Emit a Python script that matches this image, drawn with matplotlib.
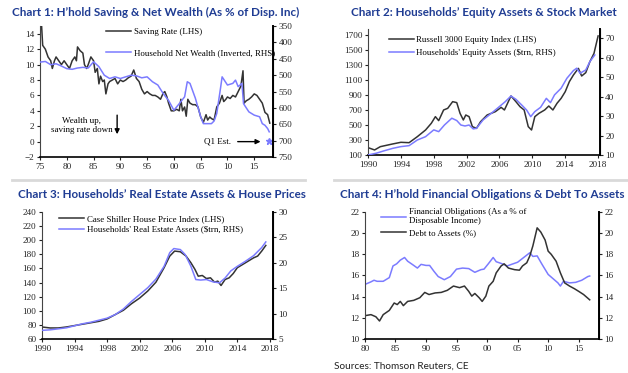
import numpy as np
import matplotlib.pyplot as plt

# Chart 1: saving rate (LHS, %) and net wealth (RHS, % of disp. income, inverted)
sav_yr = [1975.0, 1975.3, 1975.5, 1976.0, 1976.5, 1977.0, 1977.3, 1977.7, 1978.0, 1978.5,
          1979.0, 1979.5, 1980.0, 1980.5, 1981.0, 1981.5, 1981.8, 1982.0, 1982.5, 1983.0,
          1983.3, 1983.7, 1984.0, 1984.5, 1985.0, 1985.3, 1985.7, 1986.0, 1986.3, 1986.7,
          1987.0, 1987.3, 1987.7, 1988.0, 1988.5, 1989.0, 1989.5, 1990.0, 1990.5, 1991.0,
          1991.5, 1992.0, 1992.5, 1993.0, 1993.5, 1994.0, 1994.5, 1995.0, 1995.5, 1996.0,
          1996.5, 1997.0, 1997.5, 1998.0, 1998.3, 1998.7, 1999.0, 1999.5, 2000.0, 2000.5,
          2001.0, 2001.3, 2001.6, 2002.0, 2002.3, 2002.6, 2003.0, 2003.5, 2004.0, 2004.5,
          2005.0, 2005.5, 2006.0, 2006.3, 2006.7, 2007.0, 2007.5, 2008.0, 2008.5, 2009.0,
          2009.3, 2009.7, 2010.0, 2010.5, 2011.0, 2011.5, 2012.0, 2012.5, 2012.9, 2013.1,
          2013.5, 2014.0, 2014.5, 2015.0, 2015.5, 2016.0, 2016.5, 2017.0, 2017.5, 2017.9]
sav_rate = [14.5, 15.0, 12.5, 12.0, 11.0, 10.5, 9.5, 10.5, 11.0, 10.5,
            10.0, 10.5, 10.0, 9.5, 10.5, 11.0, 10.5, 12.3, 11.8, 11.5,
            10.0, 9.5, 10.0, 11.0, 10.5, 9.0, 9.5, 7.5, 8.5, 7.8,
            8.0, 6.2, 7.5, 7.8, 8.0, 8.2, 7.5, 8.0, 7.8, 8.0,
            8.3, 8.5, 9.3, 8.2, 7.8, 6.8, 6.2, 6.5, 6.2, 6.0,
            6.0, 5.8, 5.5, 6.3, 6.5, 5.8, 5.0, 4.0, 4.0, 4.2,
            4.0, 5.5, 4.0, 4.5, 3.3, 5.5, 5.0, 4.8, 4.8, 4.5,
            3.2, 2.5, 3.5, 2.8, 3.2, 3.0, 2.8, 4.5, 5.0, 6.0,
            5.2, 5.5, 5.8, 5.6, 6.0, 5.8, 6.5, 7.2, 9.2, 5.0,
            5.3, 5.5, 5.8, 6.2, 6.0, 5.5, 5.0, 3.8, 3.5, 2.4]
nw_yr = [1975.0, 1976.0, 1977.0, 1978.0, 1979.0, 1980.0, 1981.0, 1982.0, 1983.0, 1984.0,
         1985.0, 1986.0, 1987.0, 1988.0, 1989.0, 1990.0, 1991.0, 1992.0, 1993.0, 1994.0,
         1995.0, 1996.0, 1997.0, 1998.0, 1999.0, 2000.0, 2001.0, 2002.0, 2002.5, 2003.0,
         2004.0, 2005.0, 2005.5, 2006.0, 2007.0, 2007.5, 2008.0, 2008.7, 2009.0, 2010.0,
         2011.0, 2011.5, 2012.0, 2012.7, 2013.0, 2014.0, 2015.0, 2016.0, 2016.5, 2017.0,
         2017.5, 2017.8]
net_wealth = [460, 458, 468, 465, 472, 480, 482, 478, 476, 478,
              459, 474, 500, 510, 505, 510, 505, 500, 502, 508,
              505, 520, 530, 556, 577, 607, 587, 566, 520, 525,
              570, 627, 648, 648, 648, 640, 617, 540, 505, 530,
              525, 515, 535, 525, 587, 612, 622, 627, 648, 653,
              663, 673]
q1_est_yr, q1_est = 2017.8, 700

# Chart 2: Russell 3000 (LHS) and household equity assets ($trn, RHS)
r3k_yr = [1990.0, 1990.8, 1991.5, 1993.0, 1994.0, 1995.0, 1996.0, 1997.0, 1997.7, 1998.2,
          1998.6, 1999.2, 1999.7, 2000.3, 2000.8, 2001.2, 2001.6, 2001.9, 2002.3, 2002.7,
          2003.2, 2003.7, 2004.5, 2005.5, 2006.2, 2006.6, 2007.4, 2008.0, 2008.5, 2009.0,
          2009.5, 2009.9, 2010.3, 2010.8, 2011.5, 2012.0, 2012.5, 2013.0, 2013.5, 2014.0,
          2014.5, 2015.0, 2015.6, 2016.0, 2016.5, 2017.0, 2017.5, 2018.0]
russell3000 = [198, 167, 211, 247, 269, 264, 344, 433, 522, 611,
               558, 700, 722, 811, 798, 655, 567, 633, 611, 478,
               455, 544, 633, 678, 735, 700, 887, 811, 744, 700,
               478, 433, 611, 655, 700, 753, 700, 789, 855, 944,
               1077, 1167, 1255, 1153, 1198, 1344, 1455, 1687]
eq_yr = [1990.0, 1991.0, 1992.0, 1993.0, 1994.0, 1995.0, 1996.0, 1997.0, 1998.0, 1998.6,
         1999.3, 2000.2, 2000.8, 2001.3, 2001.8, 2002.3, 2002.8, 2003.2, 2004.0, 2005.0,
         2006.0, 2006.7, 2007.4, 2008.0, 2008.7, 2009.3, 2009.8, 2010.3, 2011.0, 2011.7,
         2012.2, 2012.7, 2013.5, 2014.2, 2015.0, 2015.4, 2015.8, 2016.5, 2017.0, 2017.6]
equity_assets = [10.0, 10.9, 12.2, 13.4, 14.3, 14.8, 17.7, 19.4, 22.9, 22.0,
                 25.4, 28.9, 27.7, 25.4, 24.9, 25.4, 23.4, 23.7, 28.0, 31.4,
                 34.9, 37.4, 40.3, 38.6, 35.7, 33.1, 29.7, 32.3, 34.5, 39.1,
                 36.9, 40.9, 44.3, 49.4, 53.4, 54.6, 52.0, 53.7, 58.0, 61.4]

# Chart 3: Case Shiller index (LHS) and household real estate assets ($trn, RHS)
cs_yr = [1990.0, 1991.0, 1992.0, 1993.0, 1994.0, 1995.0, 1996.0, 1997.0, 1998.0, 1999.0,
         2000.0, 2001.0, 2002.0, 2003.0, 2004.0, 2005.0, 2005.7, 2006.3, 2007.0, 2007.7,
         2008.3, 2008.8, 2009.2, 2009.7, 2010.2, 2010.7, 2011.2, 2011.6, 2012.0, 2012.5,
         2013.0, 2013.5, 2014.0, 2015.0, 2016.0, 2016.5, 2017.0, 2017.5]
case_shiller = [77.0, 75.6, 75.6, 77.0, 79.0, 81.0, 83.0, 85.0, 88.4, 94.6,
                100.7, 110.0, 118.0, 128.0, 140.5, 161.0, 177.5, 184.6, 183.6, 177.5,
                168.0, 158.5, 149.0, 150.0, 145.7, 146.7, 140.5, 142.0, 135.8, 144.3,
                146.7, 152.8, 161.0, 168.0, 175.0, 177.5, 184.6, 192.6]
re_yr = [1990.0, 1991.0, 1992.0, 1993.0, 1994.0, 1995.0, 1996.0, 1997.0, 1998.0, 1999.0,
         2000.0, 2001.0, 2002.0, 2003.0, 2004.0, 2005.0, 2005.7, 2006.2, 2007.0, 2007.6,
         2008.3, 2008.9, 2009.5, 2010.2, 2011.0, 2011.8, 2012.5, 2013.2, 2014.0, 2015.0,
         2016.0, 2017.0, 2017.5]
real_estate = [6.7, 6.8, 7.0, 7.2, 7.6, 8.0, 8.3, 8.7, 9.1, 9.8,
               10.9, 12.4, 13.75, 15.1, 16.8, 19.3, 22.0, 22.8, 22.6, 21.6,
               19.3, 16.7, 16.6, 16.7, 16.25, 16.05, 17.0, 18.4, 19.3, 20.3,
               21.4, 23.0, 24.1]

# Chart 4: financial obligations ratio and debt to assets (%)
fo_yr = [1980.0, 1981.0, 1981.5, 1982.0, 1983.0, 1984.0, 1984.6, 1985.2, 1985.8, 1986.5,
         1987.0, 1988.0, 1988.6, 1989.2, 1990.0, 1990.6, 1991.3, 1992.0, 1993.0, 1994.0,
         1995.0, 1996.0, 1997.0, 1998.0, 1999.0, 1999.5, 2000.2, 2001.0, 2001.5, 2002.5,
         2003.3, 2004.0, 2005.0, 2006.0, 2007.0, 2007.5, 2008.2, 2009.0, 2010.0, 2011.0,
         2011.6, 2012.0, 2012.5, 2013.5, 2014.5, 2015.5, 2016.5, 2016.8]
fin_oblig = [15.15, 15.4, 15.55, 15.45, 15.45, 15.8, 16.9, 17.1, 17.45, 17.7,
             17.35, 16.95, 16.7, 17.05, 16.95, 16.95, 16.4, 15.9, 15.6, 15.9,
             16.6, 16.7, 16.65, 16.3, 16.55, 16.6, 17.1, 17.7, 17.3, 17.1,
             16.9, 17.05, 17.25, 17.7, 18.15, 17.8, 17.85, 17.05, 16.1, 15.6,
             15.3, 15.0, 15.45, 15.3, 15.35, 15.55, 15.9, 15.95]
da_yr = [1980.0, 1981.0, 1981.8, 1982.4, 1983.0, 1984.0, 1984.8, 1985.3, 1985.8, 1986.3,
         1987.0, 1988.0, 1989.0, 1989.8, 1990.5, 1991.5, 1992.5, 1993.5, 1994.5, 1995.5,
         1996.3, 1997.0, 1997.5, 1998.0, 1998.7, 1999.2, 1999.8, 2000.3, 2001.0, 2001.5,
         2002.3, 2002.8, 2003.5, 2004.5, 2005.3, 2005.8, 2006.5, 2007.0, 2007.5, 2008.2,
         2008.8, 2009.5, 2010.0, 2010.5, 2011.3, 2012.0, 2012.7, 2013.5, 2014.3, 2015.0,
         2015.8, 2016.8]
debt_assets = [12.2, 12.3, 12.1, 11.7, 12.3, 12.7, 13.4, 13.25, 13.55, 13.15,
               13.55, 13.65, 13.9, 14.4, 14.2, 14.35, 14.4, 14.6, 15.0, 14.85,
               15.0, 14.5, 14.05, 14.3, 13.9, 13.55, 14.05, 15.0, 15.45, 16.25,
               16.9, 17.1, 16.7, 16.55, 16.5, 16.9, 17.2, 17.85, 18.8, 20.5,
               20.1, 19.35, 18.3, 18.0, 17.35, 16.25, 15.3, 15.0, 14.75, 14.5,
               14.2, 13.7]

BLACK = '#333333'
BLUE = '#7b7bff'
NAVY = '#1f3c93'
TICKFONT = 'Liberation Serif'

fig = plt.figure(figsize=(6.28, 3.73), dpi=100)


def style(ax, twin):
    for a in (ax, twin):
        a.spines['top'].set_visible(False)
        a.tick_params(labelsize=6.6, length=2.5, width=0.8, pad=1.5, colors='#222222')
        for lab in a.get_xticklabels() + a.get_yticklabels():
            lab.set_fontfamily(TICKFONT)
    ax.spines['left'].set_color('#444444')
    ax.spines['left'].set_linewidth(0.8)
    ax.spines['bottom'].set_linewidth(1.2)
    twin.spines['right'].set_linewidth(1.4)
    twin.spines['left'].set_visible(False)
    twin.spines['bottom'].set_visible(False)


def legend(ax, handles, labels, anchor, spacing):
    ax.legend(handles, labels, loc='upper left', bbox_to_anchor=anchor, frameon=False,
              prop={'family': TICKFONT, 'size': 6.4}, handlelength=2.8, handletextpad=0.3,
              labelspacing=spacing, borderpad=0, borderaxespad=0)


# ---- Chart 1
ax1 = fig.add_axes([0.0637, 0.579, 0.371, 0.351])
ax1b = ax1.twinx()
l1, = ax1.plot(sav_yr, sav_rate, color=BLACK, lw=1.1)
l2, = ax1b.plot(nw_yr, net_wealth, color=BLUE, lw=1.1)
ax1b.plot([q1_est_yr], [q1_est], marker='*', color=BLUE, ms=5, ls='none')
ax1.set_xlim(1975, 2018.5)
ax1.set_ylim(-2, 15)
ax1.set_yticks(np.arange(-2, 15, 2))
ax1b.set_ylim(750, 350)
ax1b.set_yticks(np.arange(350, 751, 50))
ax1.set_xticks(np.arange(1975, 2016, 5))
ax1.set_xticklabels(['75', '80', '85', '90', '95', '00', '05', '10', '15'])
style(ax1, ax1b)
legend(ax1b, [l1, l2], ['Saving Rate (LHS)', 'Household Net Wealth (Inverted, RHS)'],
       (0.285, 0.99), 1.45)
ax1.text(1982.8, 2.1, 'Wealth up,\nsaving rate down', ha='center', va='center',
         fontsize=6.5, family=TICKFONT, linespacing=1.2)
ax1.annotate('', xy=(1989.4, 0.6), xytext=(1989.4, 3.8),
             arrowprops=dict(arrowstyle='-|>', color='black', lw=1, mutation_scale=7))
ax1.text(2008.1, 0, 'Q1 Est.', ha='center', va='center', fontsize=6.5, family=TICKFONT)
ax1.annotate('', xy=(2016.7, 0), xytext=(2011.4, 0),
             arrowprops=dict(arrowstyle='-|>', color='black', lw=1, mutation_scale=7))

# ---- Chart 2
ax2 = fig.add_axes([0.586, 0.5845, 0.369, 0.337])
ax2b = ax2.twinx()
l1, = ax2.plot(r3k_yr, russell3000, color=BLACK, lw=1.1)
l2, = ax2b.plot(eq_yr, equity_assets, color=BLUE, lw=1.1)
ax2.set_xlim(1990, 2018.2)
ax2.set_ylim(100, 1776)
ax2.set_yticks(np.arange(100, 1701, 200))
ax2b.set_ylim(10, 74.6)
ax2b.set_yticks(np.arange(10, 71, 10))
ax2.set_xticks(np.arange(1990, 2019, 4))
style(ax2, ax2b)
legend(ax2b, [l1, l2], ['Russell 3000 Equity Index (LHS)', "Households' Equity Assets ($trn, RHS)"],
       (0.09, 0.95), 0.6)

# ---- Chart 3
ax3 = fig.add_axes([0.0669, 0.0912, 0.368, 0.3405])
ax3b = ax3.twinx()
l1, = ax3.plot(cs_yr, case_shiller, color=BLACK, lw=1.1)
l2, = ax3b.plot(re_yr, real_estate, color=BLUE, lw=1.1)
ax3.set_xlim(1990, 2018.4)
ax3.set_ylim(60, 240)
ax3.set_yticks(np.arange(60, 241, 20))
ax3b.set_ylim(5, 30)
ax3b.set_yticks(np.arange(5, 31, 5))
ax3.set_xticks(np.arange(1990, 2019, 4))
style(ax3, ax3b)
legend(ax3b, [l1, l2], ['Case Shiller House Price Index (LHS)', "Households' Real Estate Assets ($trn, RHS)"],
       (0.075, 0.98), 0.3)

# ---- Chart 4
ax4 = fig.add_axes([0.581, 0.0912, 0.3726, 0.3405])
ax4b = ax4.twinx()
l2, = ax4.plot(fo_yr, fin_oblig, color=BLUE, lw=1.1)
l1, = ax4.plot(da_yr, debt_assets, color=BLACK, lw=1.1)
for a in (ax4, ax4b):
    a.set_ylim(10, 22)
    a.set_yticks(np.arange(10, 23, 2))
ax4.set_xlim(1980, 2018.3)
ax4.set_xticks(np.arange(1980, 2016, 5))
ax4.set_xticklabels(['80', '85', '90', '95', '00', '05', '10', '15'])
style(ax4, ax4b)
legend(ax4b, [l2, l1], ['Financial Obligations (As a % of\nDisposable Income)', 'Debt to Assets (%)'],
       (0.07, 1.03), 0.35)

# titles, separators, source
titles = [(12, 12, 'Chart 1: H\u2019hold Saving & Net Wealth (As % of Disp. Inc)'),
          (351, 12, 'Chart 2: Households\u2019 Equity Assets & Stock Market'),
          (18, 195, 'Chart 3: Households\u2019 Real Estate Assets & House Prices'),
          (340, 195, 'Chart 4: H\u2019hold Financial Obligations & Debt To Assets')]
for x, y, t in titles:
    fig.text(x / 628, 1 - y / 373, t, ha='left', va='center', fontsize=8.4,
             fontweight='bold', family='Lato', color=NAVY)
for x0, x1 in [(12, 305), (334, 628)]:
    fig.add_artist(plt.Line2D([x0 / 628, x1 / 628], [1 - 180 / 373] * 2,
                              color='#d9d9d9', lw=2))
fig.text(334 / 628, 1 - 366 / 373, 'Sources: Thomson Reuters, CE', ha='left', va='center',
         fontsize=7.2, family='Lato', color='#222222')

fig.savefig('out.png', dpi=100)
